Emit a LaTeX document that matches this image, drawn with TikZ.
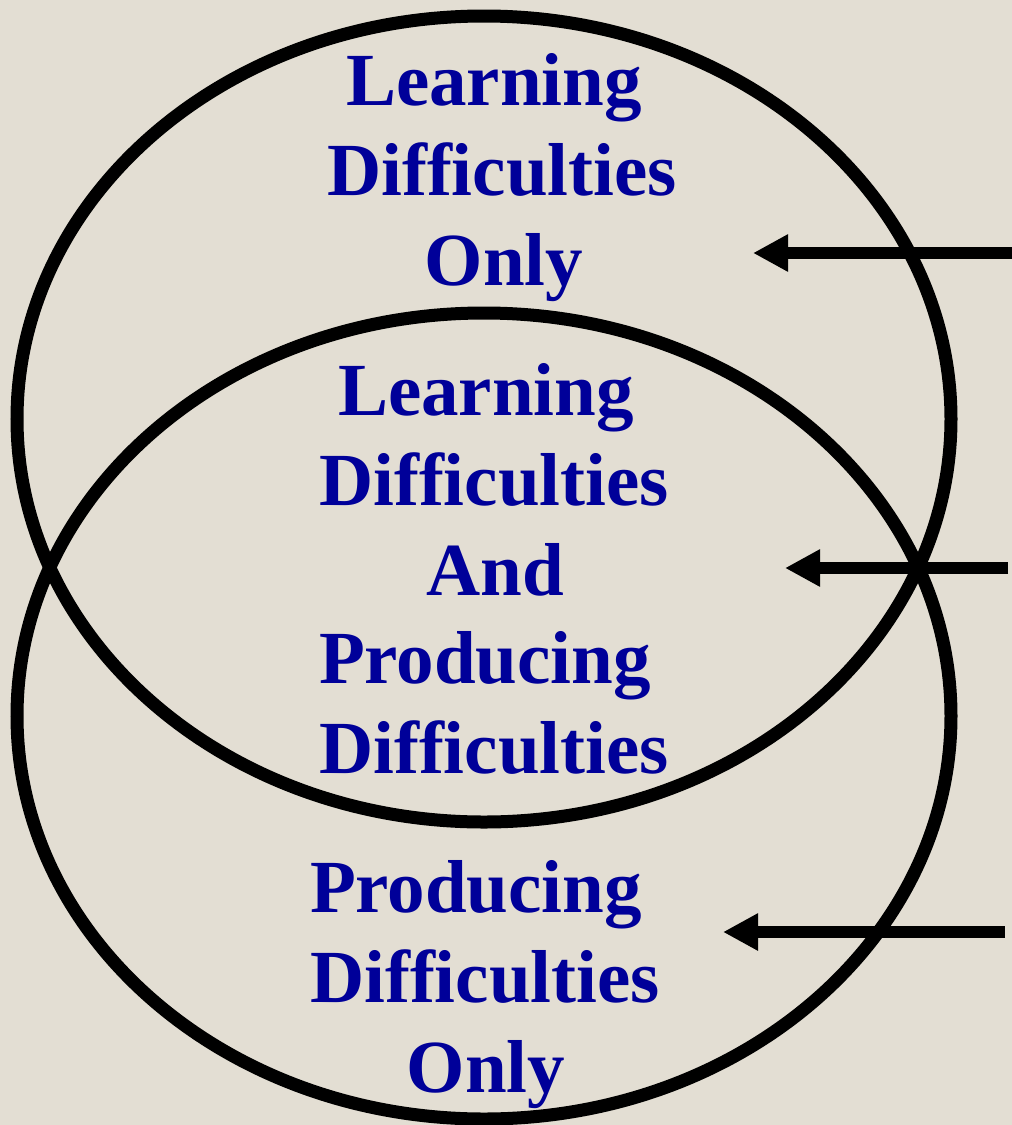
\documentclass[tikz,border=0pt]{standalone}
\usepackage{fontspec}
\setmainfont[Ligatures=NoCommon]{Liberation Serif}
\usetikzlibrary{arrows.meta}
\definecolor{paper}{RGB}{227,222,211}
\definecolor{ink}{RGB}{0,0,153}
\begin{document}
\begin{tikzpicture}[x=0.75pt,y=-0.75pt,
  ring/.style={draw=black,line width=9.75pt},
  lbl/.style={text=ink,font=\fontsize{56.25}{67.5}\selectfont\bfseries,anchor=base,inner sep=0pt},
  pointer/.style={draw=black,line width=9pt,-{Triangle[length=26.25pt,width=26.25pt]}}]
% page
\fill[paper] (0,0) rectangle (1012,1125);
\useasboundingbox (0,0) rectangle (1012,1125);

% the two overlapping sets
\draw[ring] (484,419) ellipse [x radius=467, y radius=403];
\draw[ring] (484,716) ellipse [x radius=467, y radius=403];

% upper region
\node[lbl] (l1a) at (494,105) {Learning};
\node[lbl] (l1b) at (502,195) {Difficulties};
\node[lbl] (l1c) at (504,285) {Only};

% overlap
\node[lbl] (l2a) at (486,415) {Learning};
\node[lbl] (l2b) at (494,505) {Difficulties};
\node[lbl] (l2c) at (495,595) {And};
\node[lbl] (l2d) at (485,683) {Producing};
\node[lbl] (l2e) at (494,773) {Difficulties};

% lower region
\node[lbl] (l3a) at (476,912) {Producing};
\node[lbl] (l3b) at (485,1002) {Difficulties};
\node[lbl] (l3c) at (486,1092) {Only};

% pointers from the right margin
\coordinate (s1) at (1012,253);
\coordinate (e1) at (753,253);
\coordinate (s2) at (1008,568);
\coordinate (e2) at (785,568);
\coordinate (s3) at (1005,932);
\coordinate (e3) at (723,932);
\draw[pointer] (s1) -- (e1);
\draw[pointer] (s2) -- (e2);
\draw[pointer] (s3) -- (e3);
\end{tikzpicture}
\end{document}
